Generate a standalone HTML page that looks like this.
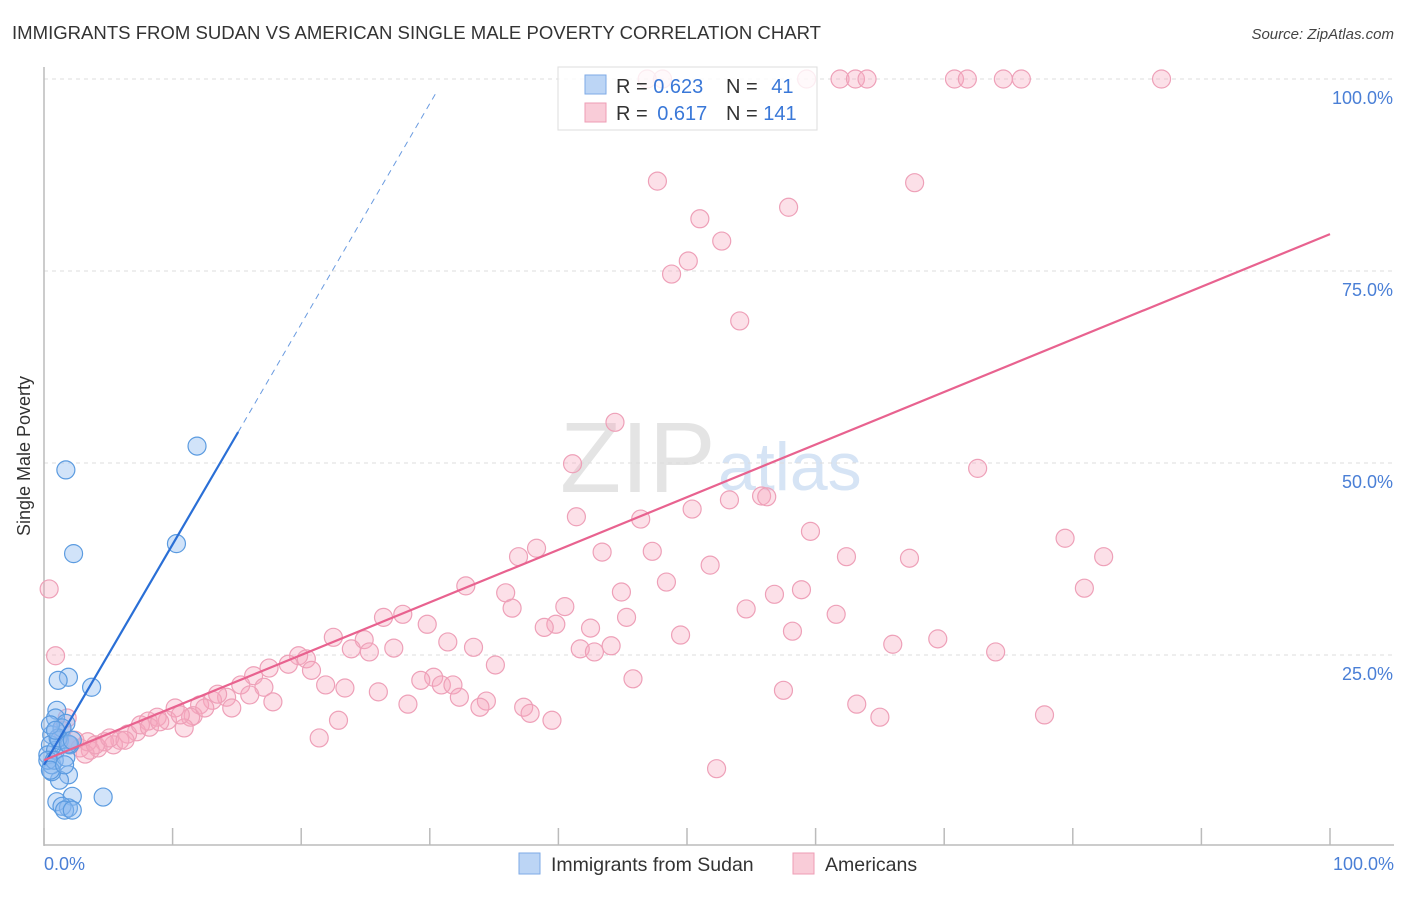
<!DOCTYPE html>
<html><head><meta charset="utf-8"><style>
body{margin:0;background:#fff;font-family:"Liberation Sans",sans-serif}
svg text{font-family:"Liberation Sans",sans-serif}
</style></head><body>
<svg id="chart" width="1406" height="892" xmlns="http://www.w3.org/2000/svg">
<text x="12" y="39" font-size="18" fill="#333" textLength="809" lengthAdjust="spacingAndGlyphs">IMMIGRANTS FROM SUDAN VS AMERICAN SINGLE MALE POVERTY CORRELATION CHART</text>
<text x="1394" y="39" font-size="15" fill="#444" font-style="italic" text-anchor="end">Source: ZipAtlas.com</text>
<text x="560" y="492" font-size="100" fill="#e4e4e4" font-family="Liberation Serif">ZIP</text>
<text x="718" y="490" font-size="68" fill="#d6e4f5">atlas</text>
<g id="grid"></g>
<g id="axes"></g>
<g id="pink"></g>
<g id="blue"></g>
<g id="lines"></g>
<text x="30" y="456" font-size="18" fill="#333" transform="rotate(-90 30 456)" text-anchor="middle">Single Male Poverty</text>
<text x="44" y="870" font-size="18" fill="#4a7fd6">0.0%</text>
<text x="1394" y="870" font-size="18" fill="#4a7fd6" text-anchor="end">100.0%</text>
<g>
<rect x="558" y="67" width="259" height="63" fill="rgba(255,255,255,0.8)" stroke="#ddd"/>
<rect x="585" y="75" width="21" height="19" fill="#bcd5f5" stroke="#7eaae6"/>
<text x="616" y="93" font-size="20" fill="#333">R = <tspan fill="#3a78d8">0.623</tspan></text>
<text x="726" y="93" font-size="20" fill="#333">N = <tspan fill="#3a78d8" dx="8">41</tspan></text>
<rect x="585" y="103" width="21" height="19" fill="#f9ccd8" stroke="#ee9db5"/>
<text x="616" y="120" font-size="20" fill="#333">R = <tspan fill="#3a78d8" dx="4">0.617</tspan></text>
<text x="726" y="120" font-size="20" fill="#333">N = <tspan fill="#3a78d8">141</tspan></text>
</g>
<g>
<rect x="519" y="853" width="21" height="21" fill="#bcd5f5" stroke="#7eaae6"/>
<text x="551" y="871" font-size="19.5" fill="#333">Immigrants from Sudan</text>
<rect x="793" y="853" width="21" height="21" fill="#f9ccd8" stroke="#ee9db5"/>
<text x="825" y="871" font-size="19.5" fill="#333">Americans</text>
</g>
</svg>
<script>
const yTicks=[25,50,75,100];
const yTickLabels=["25.0%","50.0%","75.0%","100.0%"];
const xTicks=[0,10,20,30,40,50,60,70,80,90,100];
const pinkX=[46.9,48.1,59.3,61.9,63.1,64.0,70.8,71.8,74.6,76.0,86.9,47.7,67.7,51.0,57.9,52.7,50.1,48.8,54.1,44.4,41.1,72.6,53.3,55.8,56.2,50.4,46.4,41.4,59.6,79.4,38.3,36.9,43.4,47.3,62.4,67.3,82.4,51.8,48.4,32.8,35.9,44.9,80.9,58.9,56.8,54.6,40.5,36.4,26.4,27.9,61.6,29.8,45.3,39.8,38.9,22.5,24.9,42.5,49.5,58.2,69.5,31.4,33.4,23.9,25.3,27.2,41.7,42.8,44.1,66.0,74.0,0.4,0.9,19.8,20.4,19.0,20.8,17.5,16.3,17.1,15.3,14.2,16.0,17.8,35.1,30.3,29.3,30.9,31.8,32.3,34.4,33.9,28.3,26.0,23.4,21.9,45.8,57.5,37.3,37.8,39.5,63.2,65.0,77.8,22.9,21.4,52.3,13.1,13.5,12.1,11.6,10.2,11.4,10.9,9.6,8.8,8.1,7.2,6.5,5.9,5.4,4.7,4.2,3.6,2.8,2.0,1.4,1.8,3.4,3.2,4.0,2.4,5.1,6.3,7.5,8.2,9.0,10.6,12.5,14.6];
const pinkY=[100,100,100,100,100,100,100,100,100,100,100,86.7,86.5,81.8,83.3,78.9,76.3,74.6,68.5,55.3,49.9,49.3,45.2,45.7,45.6,44.0,42.7,43.0,41.1,40.2,38.9,37.8,38.4,38.5,37.8,37.6,37.8,36.7,34.5,34.0,33.1,33.2,33.7,33.5,32.9,31.0,31.3,31.1,29.9,30.3,30.3,29.0,29.9,29.0,28.6,27.3,27.0,28.5,27.6,28.1,27.1,26.7,26.0,25.8,25.4,25.9,25.8,25.4,26.2,26.4,25.4,33.6,24.9,24.9,24.5,23.8,23.0,23.3,22.3,20.8,21.1,19.5,19.8,18.9,23.7,22.1,21.7,21.1,21.1,19.5,19.0,18.2,18.6,20.2,20.7,21.1,21.9,20.4,18.2,17.4,16.5,18.6,16.9,17.2,16.5,14.2,10.2,19.1,19.9,18.5,17.1,18.1,16.9,15.5,16.5,16.9,16.4,15.0,14.7,13.9,13.3,13.7,12.9,12.6,12.9,13.3,15.2,16.8,13.7,12.1,13.3,13.9,14.2,13.9,15.9,15.6,16.3,17.2,18.1,18.1];
const blueX=[1.7,2.3,11.9,10.3,3.7,1.9,1.1,4.6,1.0,2.2,1.9,1.4,1.6,2.2,1.9,1.2,0.6,1.0,0.9,1.7,0.6,0.5,0.3,0.6,0.9,1.2,2.0,1.4,1.1,0.5,0.3,0.8,1.7,1.9,2.2,0.9,0.5,1.6];
const blueY=[49.1,38.2,52.2,39.5,20.8,22.1,21.7,6.5,5.9,6.6,5.1,5.3,4.8,4.8,9.4,8.7,9.8,17.8,16.8,16.1,14.6,13.3,12.0,10.7,12.6,13.9,13.3,15.5,14.2,15.9,11.3,11.3,11.7,13.4,13.9,15.2,10.0,10.7];
const blueTrend=[10.7,2.87];
const pinkTrend=[11.3,0.685];

const NS="http://www.w3.org/2000/svg";
const X0=44,X1=1330,Y0=847,Y1=79;
const sx=v=>X0+(X1-X0)*v/100;
const sy=v=>Y0-(Y0-Y1)*v/100;
function mk(tag,attrs,parent){const e=document.createElementNS(NS,tag);for(const k in attrs)e.setAttribute(k,attrs[k]);parent.appendChild(e);return e;}

const grid=document.getElementById('grid');
yTicks.forEach((t,i)=>{
  const l=mk('line',{x1:X0,x2:1394,y1:sy(t),y2:sy(t),stroke:'#ddd','stroke-dasharray':'4,4'},grid);
  
  
  const tx=mk('text',{x:1393,y:sy(t)+25,'font-size':18,fill:'#4a7fd6','text-anchor':'end'},grid);
  tx.textContent=yTickLabels[i];
  
  
});
const axes=document.getElementById('axes');
const ya=mk('line',{x1:X0,x2:X0,y1:67,y2:846,stroke:'#bbb','stroke-width':1.5},axes);


const xa=mk('line',{x1:X0,x2:1394,y1:845,y2:845,stroke:'#bbb','stroke-width':1.5},axes);


xTicks.forEach(t=>{
  const l=mk('line',{x1:sx(t),x2:sx(t),y1:828,y2:845,stroke:'#bbb','stroke-width':1.5},axes);
  
  
});
const pg=document.getElementById('pink');
pinkX.forEach((x,i)=>{
  const c=mk('circle',{cx:sx(x),cy:sy(pinkY[i]),r:9,fill:'rgba(245,165,190,0.35)',stroke:'#eea0b8','stroke-width':1.2},pg);
  
  
});
const bg=document.getElementById('blue');
blueX.forEach((x,i)=>{
  const c=mk('circle',{cx:sx(x),cy:sy(blueY[i]),r:9,fill:'rgba(140,185,240,0.4)',stroke:'#5b9be0','stroke-width':1.2},bg);
  
  
});
const lg=document.getElementById('lines');
const bx=15.1,bxe=30.6;
const b1=mk('line',{x1:sx(0),y1:sy(blueTrend[0]),x2:sx(bx),y2:sy(blueTrend[0]+blueTrend[1]*bx),stroke:'#2a6fd6','stroke-width':2.2},lg);


const b2=mk('line',{x1:sx(bx),y1:sy(blueTrend[0]+blueTrend[1]*bx),x2:sx(bxe),y2:sy(blueTrend[0]+blueTrend[1]*bxe),stroke:'#6a9be0','stroke-width':1,'stroke-dasharray':'6,5'},lg);


const p1=mk('line',{x1:sx(0),y1:sy(pinkTrend[0]),x2:sx(100),y2:sy(pinkTrend[0]+pinkTrend[1]*100),stroke:'#e8628f','stroke-width':2.2},lg);


</script>
</body></html>
